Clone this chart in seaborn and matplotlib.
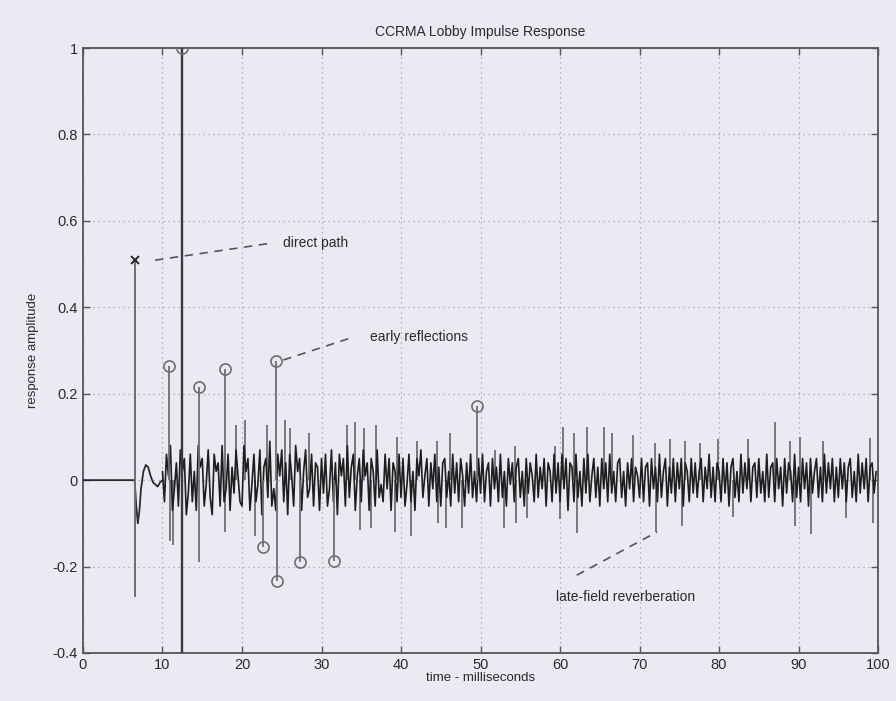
import numpy as np
import pandas as pd
import matplotlib
matplotlib.use("Agg")
import matplotlib.pyplot as plt
import seaborn as sns

# direct path + early ringing (ms, amplitude)
osc_t = [0.0, 6.45, 6.5, 6.7, 6.9, 7.1, 7.3, 7.6, 7.9, 8.2, 8.5, 8.8, 9.1, 9.4, 9.7, 10.0]
osc_y = [0.0, 0.0, 0.0, -0.06, -0.10, -0.07, -0.02, 0.02, 0.035, 0.03, 0.01, -0.005, -0.01, -0.015, -0.005, 0.0]

direct_t = 6.5
direct_top = 0.51
direct_bottom = -0.27

main_t = 12.5
main_top = 1.0

# early reflections marked with circles
refl_t = [10.8, 14.6, 17.9, 24.3, 49.6, 22.7, 24.4, 27.3, 31.6]
refl_y = [0.265, 0.216, 0.257, 0.275, 0.171, -0.154, -0.234, -0.189, -0.188]

# taller grey spikes poking out of the dense reverb
spike_t = [10.9, 11.3, 14.6, 17.9, 19.2, 20.4, 21.6, 23.2, 25.4, 26.1, 28.4,
           33.2, 34.2, 34.9, 35.4, 36.2, 36.9, 39.3, 39.5, 41.2, 42.0,
           44.5, 44.6, 45.6, 46.2, 47.7, 51.8, 52.9, 54.3, 54.4,
           55.9, 59.4, 60.0, 60.4, 61.7, 62.1, 63.4, 65.5, 66.5,
           69.2, 72.0, 72.1, 73.8, 75.3, 75.7, 77.6, 79.9,
           81.8, 83.7, 87.0, 88.9, 89.6, 90.2, 91.6, 93.1, 96.0, 99.0, 99.4]
spike_y = [-0.14, -0.15, -0.19, -0.12, 0.127, 0.14, -0.13, 0.127, 0.14, 0.12, 0.11,
           0.127, 0.134, -0.116, 0.12, -0.11, 0.127, -0.12, 0.10, -0.13, 0.09,
           0.09, -0.10, -0.11, 0.11, -0.11, 0.07, -0.11, 0.08, -0.10,
           -0.088, 0.08, -0.09, 0.123, 0.11, -0.123, 0.123, 0.123, 0.11,
           0.104, 0.085, -0.12, 0.095, -0.105, 0.09, 0.085, 0.095,
           -0.085, 0.095, 0.134, 0.09, -0.105, 0.10, -0.125, 0.09, -0.087, 0.098, -0.10]

# dense late reverberation, 0.25 ms steps from 10 to 100 ms
reverb_y = [
    0.02, -0.05, 0.06, 0.01, 0.08, -0.07, -0.02, 0.04, -0.06, 0.07, 0.02, 0.05, -0.08, -0.03, 0.06, -0.05, 0.02, -0.07, 0.08, 0.03,
    0.05, -0.06, -0.01, 0.07, -0.04, -0.08, 0.06, 0.02, 0.04, -0.06, 0.08, -0.05, -0.02, 0.06, -0.07, 0.03, -0.03, 0.07, 0.01, -0.05,
    -0.06, 0.08, 0.02, 0.05, -0.07, -0.01, 0.06, -0.05, -0.01, 0.07, -0.08, 0.03, 0.05, -0.04, 0.09, -0.06, -0.02, -0.07, 0.06, 0.01,
    0.07, -0.05, 0.04, -0.08, 0.06, 0.01, -0.06, 0.08, 0.02, 0.05, -0.07, 0.02, 0.07, -0.04, -0.02, 0.06, -0.06, 0.04, 0.03, -0.07,
    0.05, -0.03, 0.06, -0.06, -0.02, 0.07, -0.05, 0.04, -0.08, 0.06, 0.01, 0.05, -0.06, 0.08, -0.04, 0.03, 0.06, -0.07, 0.01, 0.05,
    -0.05, 0.07, 0.01, 0.04, -0.07, 0.05, 0.02, -0.06, 0.07, -0.04, -0.01, -0.05, 0.06, -0.02, 0.05, -0.07, 0.04, 0.02, -0.05, 0.06,
    -0.04, 0.05, -0.06, -0.01, 0.06, -0.05, 0.02, -0.07, 0.05, 0.01, 0.07, -0.04, 0.01, 0.05, -0.06, 0.04, -0.02, 0.06, -0.05, 0.03,
    -0.06, 0.04, 0.05, -0.04, 0.02, -0.06, 0.06, -0.03, 0.04, -0.05, 0.05, 0.01, -0.06, 0.04, -0.03, 0.06, -0.04, 0.02, -0.05, 0.05,
    -0.03, 0.06, -0.05, 0.02, 0.04, -0.06, 0.05, -0.02, 0.03, -0.05, 0.06, -0.04, 0.02, -0.06, 0.05, -0.01, 0.04, -0.05, 0.03, 0.05,
    -0.04, 0.02, -0.06, 0.05, -0.03, 0.04, 0.01, -0.05, 0.06, -0.04, 0.03, -0.02, 0.05, -0.06, 0.04, 0.02, -0.05, 0.06, -0.03, 0.04,
    -0.05, 0.06, -0.02, 0.05, -0.07, 0.04, 0.03, -0.05, 0.06, -0.04, 0.02, -0.06, 0.05, -0.03, 0.06, -0.05, 0.01, 0.05, -0.04, 0.03,
    -0.06, 0.05, -0.02, 0.04, -0.05, 0.06, -0.03, 0.02, -0.05, 0.04, 0.05, -0.04, 0.02, -0.06, 0.04, -0.02, 0.05, -0.05, 0.03, 0.01,
    -0.04, 0.05, -0.05, 0.03, 0.04, -0.06, 0.05, -0.02, 0.03, -0.05, 0.06, -0.04, 0.02, 0.05, -0.06, 0.03, -0.03, 0.05, -0.05, 0.04,
    -0.02, 0.05, -0.06, 0.04, 0.02, -0.05, 0.05, -0.03, 0.04, -0.04, 0.02, 0.05, -0.05, 0.03, -0.02, 0.06, -0.04, 0.03, -0.05, 0.04,
    0.02, -0.05, 0.05, -0.03, 0.04, -0.06, 0.03, 0.05, -0.04, 0.02, -0.05, 0.06, -0.03, 0.04, -0.02, 0.05, -0.05, 0.03, 0.04, -0.04,
    0.05, -0.03, 0.02, -0.05, 0.06, -0.04, 0.03, 0.04, -0.05, 0.05, -0.02, 0.03, -0.06, 0.05, -0.03, 0.04, 0.02, -0.05, 0.06, -0.04,
    0.03, -0.05, 0.05, -0.02, 0.04, -0.06, 0.05, -0.03, 0.02, 0.05, -0.04, 0.03, -0.05, 0.06, -0.03, 0.04, -0.02, 0.05, -0.05, 0.03,
    -0.04, 0.05, -0.02, 0.04, -0.05, 0.03, 0.05, -0.04, 0.02, -0.05, 0.06, -0.03, 0.04, -0.02, 0.05, -0.05, 0.03, 0.04, -0.03, 0.02,
]
reverb_t = np.arange(len(reverb_y)) * 0.25 + 10.0

x_ticks = [0, 10, 20, 30, 40, 50, 60, 70, 80, 90, 100]
y_ticks = [-0.4, -0.2, 0, 0.2, 0.4, 0.6, 0.8, 1]
y_ticklabels = ["-0.4", "-0.2", "0", "0.2", "0.4", "0.6", "0.8", "1"]

bg = "#eaeaf2"
ink = "#2a2a2a"
grey = "#6e6e6e"

sns.set_style("white")
plt.rcParams["font.family"] = ["Liberation Sans", "DejaVu Sans"]

fig = plt.figure(figsize=(8.96, 7.01), dpi=100, facecolor=bg)
ax = fig.add_axes([0.0926, 0.0685, 0.8874, 0.863])
ax.set_facecolor(bg)

# grey spikes first so the dense black trace sits on top
ax.vlines(spike_t, 0, spike_y, color=grey, lw=1.3, zorder=2)

reverb = pd.DataFrame({"t": reverb_t, "y": reverb_y})
osc = pd.DataFrame({"t": osc_t, "y": osc_y})
sns.lineplot(data=osc, x="t", y="y", ax=ax, color=ink, lw=1.3, estimator=None, zorder=3)
sns.lineplot(data=reverb, x="t", y="y", ax=ax, color="#1e1e1e", lw=1.2, estimator=None, zorder=3)

# direct path and the strongest arrival
ax.vlines([direct_t], direct_bottom, direct_top, color=grey, lw=1.4, zorder=4)
ax.plot([direct_t], [direct_top], marker="x", ms=6, mew=1.4, color=ink, zorder=5)
ax.vlines([main_t], -0.4, main_top, color="#3a3a3a", lw=1.7, zorder=4)
ax.plot([main_t], [main_top], marker="o", ms=8, mfc="none", mec=grey, mew=1.2, zorder=5)

# circled early reflections
ax.vlines(refl_t, 0, refl_y, color=grey, lw=1.3, zorder=4)
ax.plot(refl_t, refl_y, ls="none", marker="o", ms=8, mfc="none", mec=grey, mew=1.2, zorder=5)

# annotations
ax.plot([9.06, 23.9], [0.509, 0.549], ls=(0, (5, 4)), color="#555555", lw=1.2)
ax.text(25.2, 0.549, "direct path", fontsize=10, color=ink, va="center", ha="left")
ax.plot([25.2, 34.0], [0.278, 0.331], ls=(0, (5, 4)), color="#555555", lw=1.2)
ax.text(36.1, 0.331, "early reflections", fontsize=10, color=ink, va="center", ha="left")
ax.plot([62.1, 72.2], [-0.22, -0.12], ls=(0, (5, 4)), color="#555555", lw=1.2)
ax.text(68.3, -0.27, "late-field reverberation", fontsize=10, color=ink, va="center", ha="center")

ax.set_xlim(0, 100)
ax.set_ylim(-0.4, 1.0)
ax.set_xticks(x_ticks)
ax.set_yticks(y_ticks)
ax.set_yticklabels(y_ticklabels)
ax.grid(True, ls=(0, (1, 3)), color="#a0a0a8", lw=0.9)
ax.tick_params(direction="in", length=5, width=1, colors="#555555", labelcolor=ink,
               labelsize=10.5, top=True, right=True, bottom=True, left=True)
for s in ax.spines.values():
    s.set_visible(True)
    s.set_color("#555555")
    s.set_linewidth(1.3)

ax.set_title("CCRMA Lobby Impulse Response", fontsize=10, color=ink, pad=9)
ax.set_xlabel("time - milliseconds", fontsize=9.5, color=ink, labelpad=0)
ax.set_ylabel("response amplitude", fontsize=9.5, color=ink, labelpad=10)

fig.savefig("out.png", dpi=100, facecolor=bg)
